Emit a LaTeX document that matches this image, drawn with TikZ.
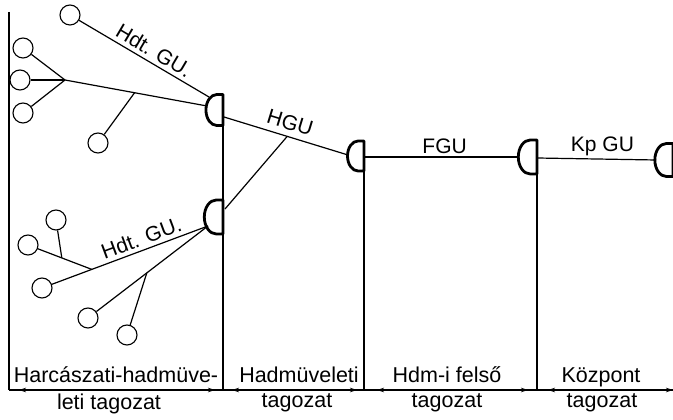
\documentclass[tikz,border=0pt]{standalone}
\usepackage{fontspec}
\setmainfont{Liberation Sans}
\usetikzlibrary{arrows.meta,calc}
\tikzset{
  ln/.style={line width=1.2pt, black},
  dline/.style={line width=2.8pt, line join=round, black},
  cnode/.style={circle, draw, line width=1.1pt, minimum size=20pt, inner sep=0pt},
  lbl/.style={font=\fontsize{21}{23}\selectfont, inner sep=1pt},
  axlbl/.style={font=\fontsize{21.5}{24}\selectfont, anchor=base, inner sep=0pt},
  axarrow/.style={line width=1.6pt, {Stealth[length=7pt,width=4.5pt]}-{Stealth[length=7pt,width=4.5pt]}},
  pics/dee/.style={code={
    \draw[dline] (0,#1) -- ({-0.4*#1},#1)
      arc[start angle=90,end angle=270,x radius={0.7*#1},y radius=#1]
      -- (0,-#1) -- cycle;
  }}
}
\begin{document}
\begin{tikzpicture}[x=1pt,y=1pt]
\useasboundingbox (0,0) rectangle (673,420);

% circles
\node[cnode] (A) at (70,405) {};
\node[cnode] (B) at (23,372) {};
\node[cnode] (C) at (20,340) {};
\node[cnode] (D) at (23,307) {};
\node[cnode] (E) at (98,277) {};
\node[cnode] (F) at (42,132) {};
\node[cnode] (G) at (28,175) {};
\node[cnode] (H) at (56,200) {};
\node[cnode] (I) at (88,102) {};
\node[cnode] (J) at (127,85) {};

% D shapes
\coordinate (D1) at (223,310);
\coordinate (D2) at (223,203);
\coordinate (D3) at (364,264);
\coordinate (D4) at (537,263);
\coordinate (D5) at (673,260);
\pic at (D1) {dee=15.5};
\pic at (D2) {dee=17};
\pic at (D3) {dee=15};
\pic at (D4) {dee=17};
\pic at (D5) {dee=16.5};

\coordinate (D1a) at (209,323);
\coordinate (D1b) at (207,314);
\coordinate (D1r) at (224,303);
\coordinate (D1bot) at (223,294.5);
\coordinate (D2c) at (208,194);
\coordinate (D2r) at (225,211);
\coordinate (D3l) at (348,265);
\coordinate (D3r) at (364,263);
\coordinate (D3bot) at (364,249);
\coordinate (D4l) at (519,263);
\coordinate (D4r) at (537,262);
\coordinate (D4bot) at (537,246);
\coordinate (D5l) at (656,260);

% axis points
\coordinate (V0t) at (9,408);
\coordinate (V0b) at (9,30);
\coordinate (V1b) at (223,30);
\coordinate (V2b) at (364,30);
\coordinate (V3b) at (537,30);
\coordinate (Vend) at (673,30);

% upper cluster
\draw[ln] (A) -- (D1a) node[lbl, sloped, above=3pt, pos=0.53] {Hdt. GU.};
\coordinate (P) at (65,340);
\draw[ln] (P) -- (D1b);
\draw[ln] (P) -- (B);
\draw[ln] (P) -- (C);
\draw[ln] (P) -- (D);
\coordinate (Q) at ($(P)!0.49!(D1b)$);
\draw[ln] (Q) -- (E);

% lower cluster
\draw[ln] (F) -- (D2c) node[lbl, sloped, above=3pt, pos=0.6] {Hdt. GU.};
\coordinate (R) at ($(F)!0.3!(D2c)$);
\draw[ln] (R) -- (G);
\coordinate (S) at ($(R)!0.47!(G)$);
\draw[ln] (S) -- (H);
\draw[ln] (I) -- (D2c);
\coordinate (T) at ($(I)!0.49!(D2c)$);
\draw[ln] (T) -- (J);

% chain
\draw[ln] (D1r) -- (D3l) node[lbl, sloped, above=5pt, pos=0.5] {HGU};
\coordinate (HJ) at ($(D1r)!0.51!(D3l)$);
\draw[ln] (D2r) -- (HJ);
\draw[ln] (D3r) -- (D4l) node[lbl, above=2pt, pos=0.52] {FGU};
\draw[ln] (D4r) -- (D5l) node[lbl, above=2pt, pos=0.55] {Kp GU};

% verticals
\draw[ln] (V0t) -- (V0b);
\draw[ln] (D1bot) -- (V1b);
\draw[ln] (D3bot) -- (V2b);
\draw[ln] (D4bot) -- (V3b);

% axis
\draw[line width=1.6pt] (V0b) -- (Vend);
\draw[axarrow] ($(V0b)+(10,0)$) -- ($(V1b)+(-8,0)$);
\draw[axarrow] ($(V1b)+(9,0)$) -- ($(V2b)+(-7,0)$);
\draw[axarrow] ($(V2b)+(13,0)$) -- ($(V3b)+(-9,0)$);
\draw[axarrow] ($(V3b)+(11,0)$) -- (Vend);

% labels
\node[axlbl] (t1a) at (116,37) {Harcászati-hadmüve-};
\node[axlbl] (t1b) at (109,10) {leti tagozat};
\node[axlbl] (t2a) at (299,37) {Hadmüveleti};
\node[axlbl] (t2b) at (297,12) {tagozat};
\node[axlbl] (t3a) at (447,37) {Hdm-i felső};
\node[axlbl] (t3b) at (447,12) {tagozat};
\node[axlbl] (t4a) at (601,37) {Központ};
\node[axlbl] (t4b) at (602,12) {tagozat};
\end{tikzpicture}
\end{document}
